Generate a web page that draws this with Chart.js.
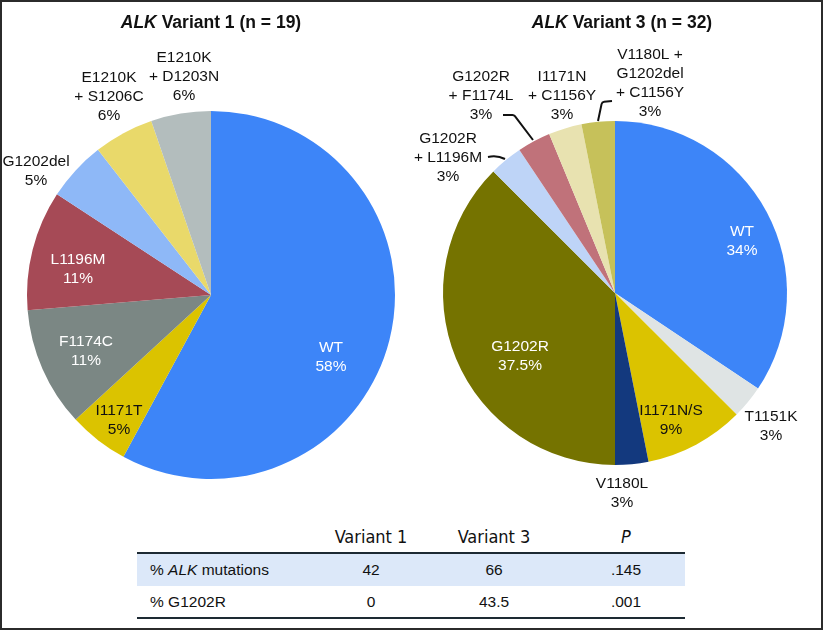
<!DOCTYPE html>
<html><head><meta charset="utf-8">
<script src="https://cdn.jsdelivr.net/npm/chart.js@4.4.0/dist/chart.umd.min.js"></script>
<style>
html,body{margin:0;padding:0;background:#fff;}
#page{position:relative;width:823px;height:630px;overflow:hidden;background:#fff;font-family:"Liberation Sans",Arial,sans-serif;color:#111;}
#frame{position:absolute;left:0;top:0;width:823px;height:630px;box-sizing:border-box;border:2px solid #2b2b2b;pointer-events:none;}
.t{position:absolute;transform:translate(-50%,-50%);line-height:1;white-space:nowrap;}
.title{font-weight:bold;font-size:17.5px;}
.hd{font-family:"Liberation Sans Narrow","DejaVu Sans Condensed",Arial,sans-serif;font-size:18px;}
.cell{font-size:15.5px;}
.rowname{position:absolute;transform:translateY(-50%);line-height:1;white-space:nowrap;font-size:15.5px;}
canvas{position:absolute;top:0;}
.bar{position:absolute;}
</style></head>
<body>
<div id="page">
  <canvas id="c1" width="411" height="520" style="left:0"></canvas>
  <canvas id="c3" width="412" height="520" style="left:411px"></canvas>
  <div id="frame"></div>
</div>
<script>
// ---------- data ----------
const v1Title = 'Variant 1 (n = 19)';
const v1Categories = [['WT'], ['I1171T'], ['F1174C'], ['L1196M'], ['G1202del'], ['E1210K', '+ S1206C'], ['E1210K', '+ D1203N']];
const v1Counts = [11, 1, 2, 2, 1, 1, 1];
const v1Pct = ['58%', '5%', '11%', '11%', '5%', '6%', '6%'];

const v3Title = 'Variant 3 (n = 32)';
const v3Categories = [['WT'], ['T1151K'], ['I1171N/S'], ['V1180L'], ['G1202R'], ['G1202R', '+ L1196M'], ['G1202R', '+ F1174L'], ['I1171N', '+ C1156Y'], ['V1180L +', 'G1202del', '+ C1156Y']];
const v3Counts = [11, 1, 3, 1, 12, 1, 1, 1, 1];
const v3Pct = ['34%', '3%', '9%', '3%', '37.5%', '3%', '3%', '3%', '3%'];

const tableHeaders = ['Variant 1', 'Variant 3', 'P'];
const tableRowNames = ['% ALK mutations', '% G1202R'];
const tableVariant1 = ['42', '0'];
const tableVariant3 = ['66', '43.5'];
const tableP = ['.145', '.001'];

// ---------- styles ----------
const v1Colors = ['#3d85f8', '#dbc300', '#7b8784', '#a64a56', '#8eb8f7', '#e9d96a', '#b3bdbd'];
const v3Colors = ['#3d85f8', '#dfe4e4', '#dbc300', '#13397e', '#757300', '#bed4f7', '#c0727a', '#e8e2b0', '#c6c15a'];
const W = '#ffffff', K = '#111111';
// label block centers relative to pie centre (px)
const v1Layout = [
  {dx: 120, dy: 62, c: W}, {dx: -92, dy: 125, c: K}, {dx: -125, dy: 56, c: W}, {dx: -133, dy: -26, c: W},
  {dx: -175, dy: -123.5, c: K}, {dx: -102, dy: -198.5, c: K}, {dx: -27, dy: -218, c: K}
];
const v3Layout = [
  {dx: 127, dy: -52, c: W}, {dx: 156, dy: 133.5, c: K}, {dx: 56, dy: 127, c: K}, {dx: 7, dy: 200.5, c: K},
  {dx: -95, dy: 63, c: W}, {dx: -167, dy: -135, c: K}, {dx: -134, dy: -197, c: K}, {dx: -53, dy: -197, c: K},
  {dx: 35, dy: -210, c: K}
];
const v3Leaders = [
  [[-127, -136], [-118, -138], [-110, -134]],
  [[-112, -178], [-101, -178], [-82, -153]],
  [[-3, -192], [-13, -191], [-17, -172]]
];

const sliceLabels = {
  id: 'sliceLabels',
  afterDatasetsDraw(chart, args, opts) {
    const meta = chart.getDatasetMeta(0);
    const a0 = meta.data[0];
    const cx = a0.x, cy = a0.y;
    const ctx = chart.ctx;
    const names = chart.data.labels;
    ctx.save();
    ctx.font = '15.5px "Liberation Sans", Arial, sans-serif';
    ctx.textAlign = 'center';
    ctx.textBaseline = 'middle';
    opts.layout.forEach((it, i) => {
      const lines = names[i].concat([opts.pct[i]]);
      const n = lines.length;
      ctx.fillStyle = it.c;
      lines.forEach((ln, k) => {
        ctx.fillText(ln, cx + it.dx, cy + it.dy + (k - (n - 1) / 2) * opts.lineH);
      });
    });
    ctx.strokeStyle = '#111';
    ctx.lineWidth = 2;
    ctx.lineJoin = 'round';
    ctx.lineCap = 'butt';
    (opts.leaders || []).forEach((pts, j) => {
      ctx.beginPath();
      ctx.moveTo(cx + pts[0][0], cy + pts[0][1]);
      if (j === 0) {
        ctx.quadraticCurveTo(cx + pts[1][0], cy + pts[1][1], cx + pts[2][0], cy + pts[2][1]);
      } else {
        ctx.arcTo(cx + pts[1][0], cy + pts[1][1], cx + pts[2][0], cy + pts[2][1], 3);
        ctx.lineTo(cx + pts[2][0], cy + pts[2][1]);
      }
      ctx.stroke();
    });
    ctx.restore();
  }
};

function makePie(id, cats, counts, colors, pct, layout, leaders, pad) {
  return new Chart(document.getElementById(id), {
    type: 'pie',
    data: {
      labels: cats,
      datasets: [{data: counts, backgroundColor: colors, borderWidth: 0, hoverBorderWidth: 0, hoverOffset: 0, offset: 0}]
    },
    options: {
      responsive: false,
      animation: false,
      events: [],
      layout: {padding: pad},
      plugins: {
        legend: {display: false},
        tooltip: {enabled: false},
        title: {display: false},
        sliceLabels: {layout: layout, pct: pct, leaders: leaders, lineH: 19}
      }
    },
    plugins: [sliceLabels]
  });
}

makePie('c1', v1Categories, v1Counts, v1Colors, v1Pct, v1Layout, [], {left: 27, right: 16, top: 111, bottom: 41});
makePie('c3', v3Categories, v3Counts, v3Colors, v3Pct, v3Layout, v3Leaders, {left: 32, right: 36, top: 121, bottom: 55});

// ---------- titles & table (HTML text) ----------
const page = document.getElementById('page');
function addText(cls, html, x, y) {
  const d = document.createElement('div');
  d.className = cls;
  d.innerHTML = html;
  d.style.left = x + 'px';
  d.style.top = y + 'px';
  page.insertBefore(d, document.getElementById('frame'));
  return d;
}
function addBar(x, y, w, h, color) {
  const d = document.createElement('div');
  d.className = 'bar';
  Object.assign(d.style, {left: x + 'px', top: y + 'px', width: w + 'px', height: h + 'px', background: color});
  page.insertBefore(d, page.firstChild);
}
addText('t title', '<i>ALK</i> ' + v1Title, 211, 22.5);
addText('t title', '<i>ALK</i> ' + v3Title, 622, 22.5);

const colX = [371, 494, 626];
const rowY = [570, 602];
tableHeaders.forEach((h, i) => addText('t hd', h === 'P' ? '<i>P</i>' : h, colX[i], 537));
addBar(137, 554, 548, 32, '#dce8f9');
addBar(137, 552, 548, 2.5, '#1d2a33');
addBar(137, 616.5, 548, 2.5, '#1d2a33');
tableRowNames.forEach((r, i) => {
  addText('rowname', r.replace('ALK', '<i>ALK</i>'), 150, rowY[i]);
  addText('t cell', tableVariant1[i], colX[0], rowY[i]);
  addText('t cell', tableVariant3[i], colX[1], rowY[i]);
  addText('t cell', tableP[i], colX[2], rowY[i]);
});
</script>
</body></html>
